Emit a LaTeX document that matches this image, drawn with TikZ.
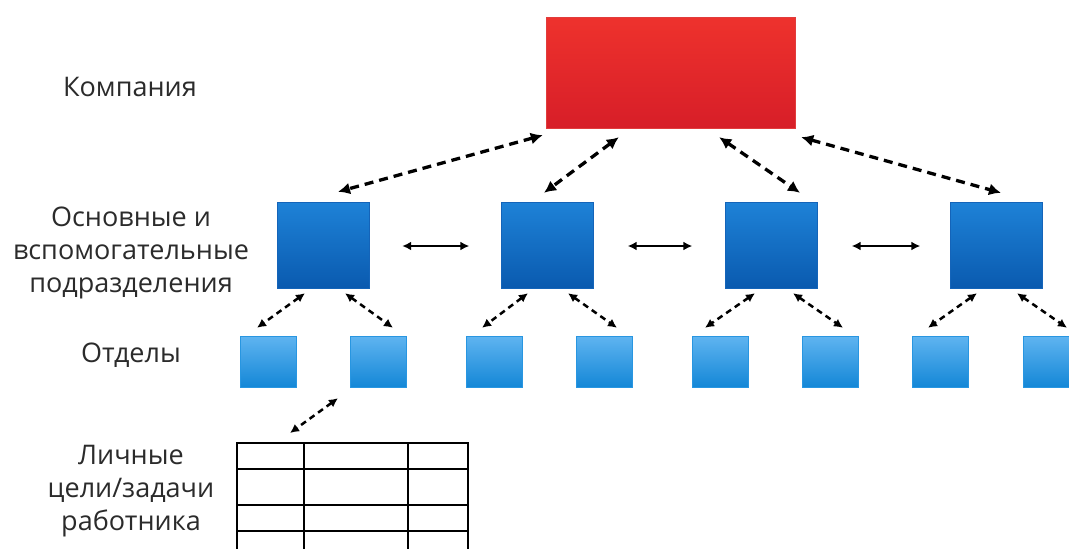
\documentclass[tikz,border=0pt]{standalone}
\usepackage{fontspec}
\setmainfont{Open Sans}
\usetikzlibrary{calc,arrows.meta}
\definecolor{txt}{HTML}{2B2B2B}
\tikzset{
  x=1pt,y=-1pt,
  lbl/.style={text=txt,font=\fontsize{27}{33}\selectfont,align=center,inner sep=0pt},
  redbox/.style={rectangle,minimum width=249pt,minimum height=111pt,inner sep=0pt,
    top color={rgb,255:red,238;green,50;blue,45},middle color=red,bottom color={rgb,255:red,215;green,30;blue,40},draw={rgb,255:red,225;green,60;blue,60}},
  bigbox/.style={rectangle,minimum width=92pt,minimum height=86pt,inner sep=0pt,
    top color={rgb,255:red,30;green,130;blue,215},bottom color={rgb,255:red,10;green,90;blue,175},draw={rgb,255:red,20;green,100;blue,185}},
  smallbox/.style={rectangle,minimum width=56pt,minimum height=51pt,inner sep=0pt,
    top color={rgb,255:red,95;green,180;blue,240},bottom color={rgb,255:red,20;green,135;blue,215},draw={rgb,255:red,40;green,150;blue,225}},
  darr/.style={black,line width=3.3pt,dash pattern=on 9pt off 6pt,{Latex[length=12pt,width=12pt]}-{Latex[length=12pt,width=12pt]}},
  sarr/.style={black,line width=2.5pt,dash pattern=on 6pt off 4.5pt,{Latex[length=9pt,width=9pt]}-{Latex[length=9pt,width=9pt]}},
  harr/.style={black,line width=2.2pt,{Latex[length=9pt,width=9pt]}-{Latex[length=9pt,width=9pt]}},
  tline/.style={black,line width=2.2pt}
}
\begin{document}
\begin{tikzpicture}
\useasboundingbox[fill=white] (0,0) rectangle (1069,549);
% labels
\node[lbl] (l1) at (130,87) {Компания};
\node[lbl] (l2) at (131,253) {Основные и\\вспомогательные\\подразделения};
\node[lbl] (l3) at (131,355) {Отделы};
\node[lbl] (l4) at (131,491) {Личные\\цели/задачи\\работника};
% company
\node[redbox] (R) at (670.5,72.5) {};
% divisions
\node[bigbox] (B1) at (323,245) {};
\node[bigbox] (B2) at (547.5,245) {};
\node[bigbox] (B3) at (771.5,245) {};
\node[bigbox] (B4) at (996.5,245) {};
% departments
\node[smallbox] (Sa) at (268,361.5) {};
\node[smallbox] (Sb) at (378,361.5) {};
\node[smallbox] (Sc) at (494,361.5) {};
\node[smallbox] (Sd) at (604.5,361.5) {};
\node[smallbox] (Se) at (720,361.5) {};
\node[smallbox] (Sf) at (830.5,361.5) {};
\node[smallbox] (Sg) at (940,361.5) {};
\node[smallbox] (Sh) at (1051,361.5) {};
% table
\node[rectangle,minimum width=231pt,minimum height=106pt,inner sep=0pt,anchor=north west] (T) at (237,443) {};
\draw[tline] (T.north west) -- (T.north east);
\foreach \yy in {469,505,531} \draw[tline] ($(T.north west)+(0,\yy-443)$) -- ($(T.north east)+(0,\yy-443)$);
\foreach \xx in {0,67,171,231} \draw[tline] ($(T.north west)+(\xx,-1)$) -- ($(T.north west)+(\xx,110)$);
% company arrows
\draw[darr] ($(R.south west)+(-3,7)$) -- ($(B1.north)+(15,-10)$);
\draw[darr] ($(R.south west)+(73,9)$) -- ($(B2.north)+(-3.5,-9)$);
\draw[darr] ($(R.south east)+(-76,9)$) -- ($(B3.north)+(28.5,-9)$);
\draw[darr] ($(R.south east)+(6,9)$) -- ($(B4.north)+(4.5,-9)$);
% horizontal arrows
\draw[harr] ($(B1.east)+(33,1)$) -- ($(B2.west)+(-32,1)$);
\draw[harr] ($(B2.east)+(34,1)$) -- ($(B3.west)+(-33,1)$);
\draw[harr] ($(B3.east)+(34,1)$) -- ($(B4.west)+(-30,1)$);
% division -> department arrows
\draw[sarr] ($(B1.south)+(-18,5)$) -- ($(Sa.north)+(-11,-8)$);
\draw[sarr] ($(B1.south)+(22,5)$) -- ($(Sb.north)+(15,-8)$);
\draw[sarr] ($(B2.south)+(-19.5,5)$) -- ($(Sc.north)+(-12,-8)$);
\draw[sarr] ($(B2.south)+(20.5,5)$) -- ($(Sd.north)+(12.5,-8)$);
\draw[sarr] ($(B3.south)+(-16.5,5)$) -- ($(Se.north)+(-15,-8)$);
\draw[sarr] ($(B3.south)+(21.5,5)$) -- ($(Sf.north)+(12.5,-8)$);
\draw[sarr] ($(B4.south)+(-19.5,5)$) -- ($(Sg.north)+(-12,-8)$);
\draw[sarr] ($(B4.south)+(20.5,5)$) -- ($(Sh.north)+(16,-8)$);
% department -> table
\draw[sarr] ($(Sb.south)+(-40,11)$) -- ($(T.north west)+(53,-10)$);
\end{tikzpicture}
\end{document}
